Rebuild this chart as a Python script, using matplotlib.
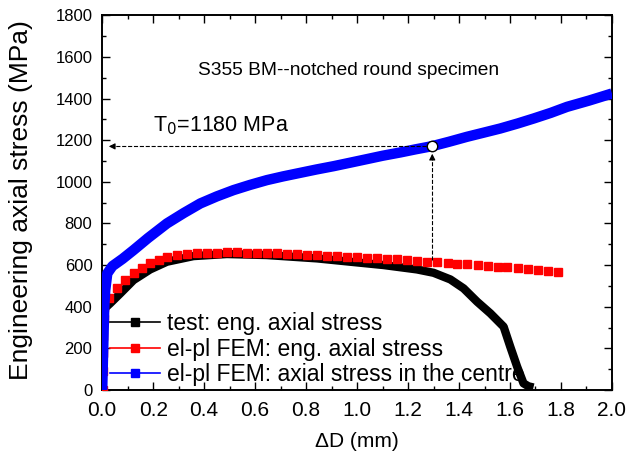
import numpy as np
import matplotlib.pyplot as plt
from matplotlib.lines import Line2D
from matplotlib.ticker import MultipleLocator

plt.rcParams['font.family'] = ['Liberation Sans', 'DejaVu Sans']

# test: eng. axial stress
black_x = [0.0, 0.003, 0.004, 0.005, 0.007, 0.012, 0.031, 0.071, 0.123, 0.188, 0.254,
           0.358, 0.489, 0.646, 0.843, 0.973, 1.104, 1.235, 1.300, 1.366, 1.418,
           1.471, 1.523, 1.575, 1.601, 1.628, 1.653, 1.672, 1.692]
black_y = [0, 100, 200, 300, 360, 395, 416, 464, 528, 579, 616,
           643, 653, 648, 632, 616, 600, 579, 563, 531, 488,
           424, 368, 304, 208, 112, 32, 18, 12]

# el-pl FEM: eng. axial stress (one entry per marker)
red_x = [0.003, 0.003, 0.004, 0.005, 0.006, 0.009, 0.025, 0.058, 0.090, 0.123, 0.156,
         0.188, 0.221, 0.254, 0.293, 0.333, 0.372, 0.411, 0.451, 0.490, 0.529,
         0.568, 0.608, 0.647, 0.686, 0.726, 0.765, 0.804, 0.844, 0.883, 0.922,
         0.962, 1.001, 1.040, 1.079, 1.119, 1.158, 1.197, 1.237, 1.276, 1.315,
         1.355, 1.394, 1.433, 1.473, 1.512, 1.551, 1.590, 1.630, 1.669, 1.708,
         1.748, 1.787]
red_y = [0, 90, 180, 260, 340, 400, 440, 488, 528, 560, 587,
         608, 624, 637, 646, 652, 656, 659, 660, 661, 661,
         660, 659, 658, 656, 654, 652, 650, 648, 645, 643,
         641, 639, 636, 633, 630, 627, 623, 620, 617, 614,
         611, 607, 604, 600, 597, 593, 589, 585, 581, 577,
         573, 569]

# el-pl FEM: axial stress in the centre
blue_x = [0.0, 0.002, 0.004, 0.006, 0.008, 0.012, 0.02, 0.04, 0.08, 0.123, 0.18,
          0.254, 0.32, 0.385, 0.45, 0.515, 0.58, 0.646, 0.71, 0.777, 0.84,
          0.908, 0.97, 1.039, 1.1, 1.17, 1.23, 1.294, 1.36, 1.431, 1.5,
          1.562, 1.63, 1.693, 1.76, 1.824, 1.91, 2.0]
blue_y = [0, 100, 200, 300, 400, 480, 560, 595, 630, 672, 730,
          800, 850, 896, 930, 960, 985, 1008, 1026, 1043, 1059,
          1075, 1091, 1109, 1125, 1141, 1156, 1171, 1192, 1216, 1237,
          1256, 1280, 1304, 1331, 1360, 1390, 1424]

t0_x = 1.295
t0_y = 1170
t0_base = 625

labels = ['test: eng. axial stress',
          'el-pl FEM: eng. axial stress',
          'el-pl FEM: axial stress in the centre']

fig, ax = plt.subplots(figsize=(6.27, 4.61), dpi=100)
fig.subplots_adjust(left=0.163, right=0.976, top=0.967, bottom=0.154)

ax.plot(black_x, black_y, color='black', lw=6, solid_capstyle='butt', zorder=2)
ax.plot(red_x, red_y, ls='none', marker='s', ms=6.3, mfc='red', mec='red', zorder=3)
ax.plot(blue_x, blue_y, color='blue', lw=7.5, solid_capstyle='butt', zorder=4)

# T0 construction lines
ax.plot([t0_x, 0.05], [t0_y, t0_y], ls='--', color='black', lw=0.8, zorder=5)
ax.plot([t0_x, t0_x], [t0_base, t0_y - 40], ls='--', color='black', lw=0.8, zorder=5)
ax.annotate('', xy=(0.015, t0_y), xytext=(0.06, t0_y),
            arrowprops=dict(arrowstyle='-|>', color='black', lw=0.8, mutation_scale=9))
ax.annotate('', xy=(t0_x, t0_y - 22), xytext=(t0_x, t0_y - 70),
            arrowprops=dict(arrowstyle='-|>', color='black', lw=0.8, mutation_scale=9),
            zorder=6)
ax.plot([t0_x], [t0_y], marker='o', ms=7.5, mfc='white', mec='black', mew=1, zorder=7)

ax.text(0.2, 1270, 'T$_0$=1180 MPa', fontsize=15.5, va='center', ha='left')
ax.text(0.375, 1536, 'S355 BM--notched round specimen', fontsize=13.8, va='center', ha='left')

handles = [
    Line2D([], [], color='black', lw=1.2, marker='s', ms=6.3),
    Line2D([], [], color='red', lw=1.2, marker='s', ms=6.3),
    Line2D([], [], color='blue', lw=1.2, marker='s', ms=6.3),
]
ax.legend(handles, labels, loc='lower left', bbox_to_anchor=(-0.003, -0.015),
          frameon=False, fontsize=16.5, handlelength=2.2, handletextpad=0.3,
          labelspacing=0.11, borderaxespad=0.2, borderpad=0.2)

ax.set_xlim(0, 2.0)
ax.set_ylim(0, 1800)
ax.xaxis.set_major_locator(MultipleLocator(0.2))
ax.xaxis.set_minor_locator(MultipleLocator(0.1))
ax.yaxis.set_major_locator(MultipleLocator(200))
ax.yaxis.set_minor_locator(MultipleLocator(100))
ax.xaxis.set_major_formatter(plt.FuncFormatter(lambda v, p: f'{v:.1f}'))
ax.tick_params(which='both', direction='in', top=True, right=True)
ax.tick_params(which='major', length=6, width=1)
ax.tick_params(which='minor', length=3, width=1)
ax.tick_params(axis='x', labelsize=15, pad=8)
ax.tick_params(axis='y', labelsize=12, pad=7)
for s in ax.spines.values():
    s.set_linewidth(1.4)

ax.set_xlabel('\u0394D (mm)', fontsize=15)
ax.set_ylabel('Engineering axial stress (MPa)', fontsize=19)
ax.xaxis.set_label_coords(0.5, -0.112)
ax.yaxis.set_label_coords(-0.135, 0.507)

fig.savefig('out.png', dpi=100)
